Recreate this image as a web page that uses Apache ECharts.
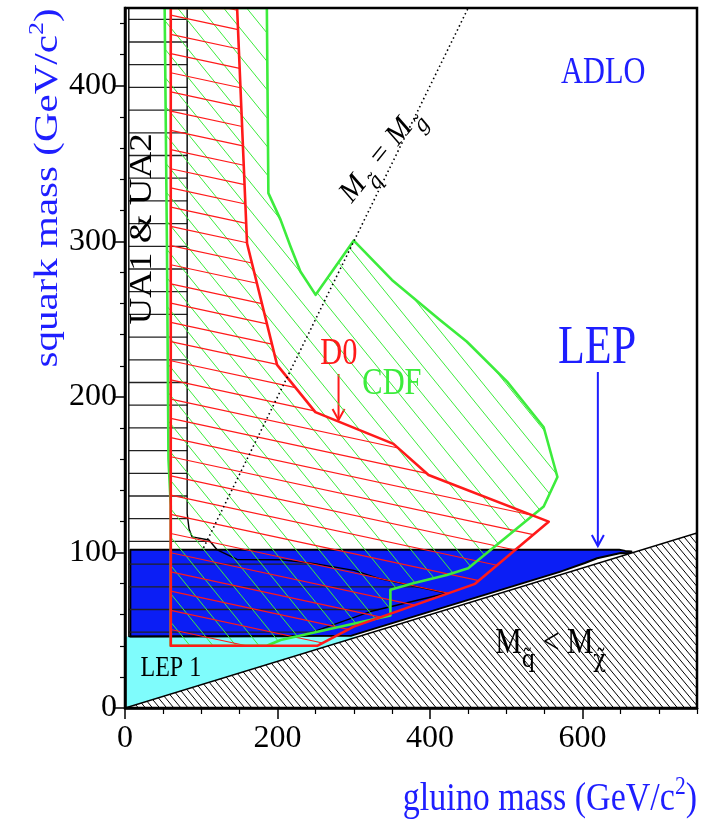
<!DOCTYPE html>
<html><head><meta charset="utf-8">
<script src="https://cdn.jsdelivr.net/npm/echarts@6/dist/echarts.min.js"></script>
<style>html,body{margin:0;padding:0;background:#fff}#c{width:704px;height:822px}</style>
</head><body><div id="c"></div><script>
// ---------- data (GeV/c^2) ----------
const xMajorTicks = [0, 200, 400, 600];
const xMinorTicks = [50, 100, 150, 250, 300, 350, 450, 500, 550, 650, 700, 750];
const yMajorTicks = [0, 100, 200, 300, 400];
const yMinorTicks = [20, 40, 60, 80, 120, 140, 160, 180, 220, 240, 260, 280, 320, 340, 360, 380, 420, 440];

const kinematicLimit = [[0, 0], [750, 112.5], [750, 0]];           // M_sq < M_chi
const lep1Region = [[0, 0], [0, 46], [306, 46]];
const lepRegion = [[7, 46], [7, 101.7], [648, 101.7], [656, 101], [664, 100.6], [664, 99.3],
  [650, 99.6], [619, 96.3], [603, 93.2], [570, 87.5], [297, 46.5]];
const ua12Region = [[5, 450], [81.5, 450], [81.5, 125], [84, 115], [88, 110], [110, 108], [121, 101.6],
  [147, 95.5], [204, 95.3], [247, 93], [300, 88.5], [335, 83], [422, 73.8], [321.6, 62], [230, 46], [5, 46]];
const cdfRegion = [[52, 450], [55, 297], [57, 160], [60, 130], [60, 40], [186, 40], [204, 43.7],
  [348, 59.5], [348, 76], [378, 80.2], [422, 85.5], [450, 89.8], [549, 129.5], [567, 148.5],
  [549, 180.5], [501, 209.8], [448, 235.6], [413, 249.5], [350, 275.2], [300, 300.5], [250, 265.6],
  [230, 280.6], [217, 296.7], [204, 313.8], [188, 331], [186, 450]];
const d0Region = [[60, 450], [60, 40], [252, 40], [300, 52.3], [459, 79.8], [555.5, 119.8],
  [398, 149.8], [352, 169.8], [249.6, 190.2], [199.4, 220.6], [160, 298.8], [147, 450]];
const equalMassLine = [[103, 103], [450, 450]];

// ---------- styles ----------
const SERIF = '"Liberation Serif","Times New Roman",serif';
const MARKS = '"DejaVu Serif",serif';
const BLUE_TXT = '#1e1eff', RED = '#ff1a1a', GREEN = '#3cec3c';

function hatch(pts, slope, perp, anchor) {
  const len = Math.hypot(1, slope), dx = 1 / len, dy = slope / len, nx = -dy, ny = dx;
  let cmin = Infinity, cmax = -Infinity;
  pts.forEach(p => { const c = nx * p[0] + ny * p[1]; cmin = Math.min(cmin, c); cmax = Math.max(cmax, c); });
  const c0 = nx * anchor[0] + ny * anchor[1];
  const segs = [];
  for (let k = Math.ceil((cmin - c0) / perp); c0 + k * perp <= cmax; k++) {
    const c = c0 + k * perp, ts = [];
    for (let i = 0; i < pts.length; i++) {
      const a = pts[i], b = pts[(i + 1) % pts.length];
      const sa = nx * a[0] + ny * a[1] - c, sb = nx * b[0] + ny * b[1] - c;
      if ((sa > 0) !== (sb > 0)) {
        const t = sa / (sa - sb);
        const px = a[0] + t * (b[0] - a[0]), py = a[1] + t * (b[1] - a[1]);
        ts.push(dx * px + dy * py);
      }
    }
    ts.sort((u, v) => u - v);
    for (let j = 0; j + 1 < ts.length; j += 2)
      segs.push([[c * nx + ts[j] * dx, c * ny + ts[j] * dy], [c * nx + ts[j + 1] * dx, c * ny + ts[j + 1] * dy]]);
  }
  return segs;
}

function regionSeries(name, poly, st) {
  return {
    type: 'custom', name, coordinateSystem: 'cartesian2d', data: poly, encode: { x: 0, y: 0 },
    clip: true, silent: true, z: st.z, animation: false,
    renderItem(params, api) {
      if (params.dataIndex !== 0) return null;
      const pts = poly.map(p => api.coord(p));
      const children = [];
      if (st.fill) children.push({ type: 'polygon', shape: { points: pts }, style: { fill: st.fill, stroke: null } });
      if (st.hatch) {
        const h = st.hatch;
        hatch(pts, h.slope, h.perp, h.anchor).forEach(s => children.push({
          type: 'line', shape: { x1: s[0][0], y1: s[0][1], x2: s[1][0], y2: s[1][1] },
          style: { stroke: h.color, lineWidth: h.width }
        }));
      }
      if (st.stroke) children.push({ type: 'polygon', shape: { points: pts },
        style: { fill: 'none', stroke: st.stroke, lineWidth: st.lineWidth, lineJoin: 'round' } });
      return { type: 'group', children };
    }
  };
}

const chart = echarts.init(document.getElementById('c'), null, { renderer: 'canvas' });
const axisCommon = { type: 'value', splitLine: { show: false }, z: 100 };
chart.setOption({
  animation: false,
  backgroundColor: '#fff',
  grid: { left: 125, right: 7, top: 8, bottom: 114, show: true, borderColor: '#000', borderWidth: 2.5, z: 100 },
  xAxis: [
    Object.assign({}, axisCommon, { min: 0, max: 750, position: 'bottom',
      axisLine: { show: true, lineStyle: { color: '#000', width: 2.5 } },
      axisTick: { show: true, customValues: xMajorTicks, length: 11, lineStyle: { color: '#000', width: 1.5 } },
      axisLabel: { show: true, customValues: xMajorTicks, margin: 15, color: '#000', fontFamily: SERIF, fontSize: 32 } }),
    Object.assign({}, axisCommon, { min: 0, max: 750, position: 'bottom',
      axisLine: { show: false },
      axisTick: { show: true, customValues: xMinorTicks, length: 6, lineStyle: { color: '#000', width: 1.2 } },
      axisLabel: { show: false } })
  ],
  yAxis: [
    Object.assign({}, axisCommon, { min: 0, max: 450, position: 'left',
      axisLine: { show: true, lineStyle: { color: '#000', width: 2.5 } },
      axisTick: { show: true, customValues: yMajorTicks, length: 10, lineStyle: { color: '#000', width: 1.5 } },
      axisLabel: { show: true, customValues: yMajorTicks, margin: 8, color: '#000', fontFamily: SERIF, fontSize: 32 } }),
    Object.assign({}, axisCommon, { min: 0, max: 450, position: 'left',
      axisLine: { show: false },
      axisTick: { show: true, customValues: yMinorTicks, length: 5, lineStyle: { color: '#000', width: 1.2 } },
      axisLabel: { show: false } })
  ],
  series: [
    regionSeries('LEP 1', lep1Region, { fill: '#7ffcfc', z: 2 }),
    regionSeries('LEP', lepRegion, { fill: '#0b1ef5', stroke: '#000', lineWidth: 2, z: 3 }),
    regionSeries('UA1 & UA2', ua12Region, { hatch: { slope: 0, perp: 22.7, anchor: [0, 19.3], color: '#222', width: 1.3 },
      stroke: '#000', lineWidth: 1.4, z: 4 }),
    regionSeries('CDF', cdfRegion, { hatch: { slope: 1.23, perp: 17.85, anchor: [300, 300], color: GREEN, width: 1 }, z: 5 }),
    regionSeries('D0', d0Region, { hatch: { slope: 0.215, perp: 18.77, anchor: [170, 15], color: RED, width: 1.2 }, z: 6 }),
    regionSeries('CDF outline', cdfRegion, { stroke: GREEN, lineWidth: 2.6, z: 7 }),
    regionSeries('D0 outline', d0Region, { stroke: RED, lineWidth: 2.6, z: 8 }),
    regionSeries('M_sq < M_chi', kinematicLimit, { fill: '#fff', hatch: { slope: 1.2, perp: 5.45, anchor: [600, 700], color: '#000', width: 1 },
      stroke: '#000', lineWidth: 1.6, z: 9 }),
    { type: 'line', name: 'M_sq = M_gl', data: equalMassLine, symbol: 'none', z: 10, silent: true,
      lineStyle: { color: '#000', width: 1.6, type: [1.5, 3] } }
  ]
});

// ---------- annotations (placed in data coordinates) ----------
function P(p) { return chart.convertToPixel({ gridIndex: 0 }, p); }
function txt(at, text, size, color, extra) {
  const p = P(at);
  return Object.assign({ type: 'text', x: p[0], y: p[1], z: 200, scaleX: 0.8,
    style: { text, fill: color, fontFamily: SERIF, fontSize: size, align: 'center', verticalAlign: 'middle' } }, extra || {});
}
function arrow(from, to, color) {
  const a = P(from), b = P(to);
  return { type: 'group', z: 200, children: [
    { type: 'line', shape: { x1: a[0], y1: a[1], x2: b[0], y2: b[1] }, style: { stroke: color, lineWidth: 2 } },
    { type: 'polyline', shape: { points: [[b[0] - 6, b[1] - 11], [b[0], b[1]], [b[0] + 6, b[1] - 11]] },
      style: { stroke: color, lineWidth: 2, fill: 'none' } }
  ] };
}
const g = [];
g.push(txt([627, 408.2], 'ADLO', 38, BLUE_TXT));
g.push(txt([619, 230.8], 'LEP', 55, BLUE_TXT));
g.push(arrow([620, 216], [620, 104.1], BLUE_TXT));
g.push(txt([280.4, 227.6], 'D0', 38, RED));
g.push(arrow([280, 214.7], [280, 185.2], RED));
g.push(txt([350, 208.3], 'CDF', 38, GREEN));
g.push(txt([60.1, 25.5], 'LEP 1', 30, '#000'));
(function () {
  const p = P([22.9, 308]);
  g.push({ type: 'text', x: p[0], y: p[1], rotation: Math.PI / 2, scaleY: 0.85, z: 200,
    style: { text: 'UA1 & UA2', fill: '#000', fontFamily: SERIF, fontSize: 37, align: 'center', verticalAlign: 'middle' } });
})();
(function () {
  const p = P([485.4, 42.6]);
  g.push({ type: 'text', x: p[0], y: p[1], scaleX: 0.85, z: 200,
    style: { text: '{m|M}{s|q\u0303}{m| < M}{s|\u03c7\u0303}', align: 'left', verticalAlign: 'middle',
      rich: { m: { fontFamily: SERIF, fontSize: 35, fill: '#000', lineHeight: 40, verticalAlign: 'bottom' },
              s: { fontFamily: MARKS, fontSize: 25, fill: '#000', lineHeight: 24, verticalAlign: 'bottom', padding: [0, 0, -11, 0] } } } });
})();
(function () {
  const p = P([333.4, 356.2]);
  g.push({ type: 'text', x: p[0], y: p[1], rotation: 51 * Math.PI / 180, z: 200,
    style: { text: '{m|M}{s|q\u0303}{m| = M}{s|g\u0303}', align: 'center', verticalAlign: 'middle',
      rich: { m: { fontFamily: SERIF, fontStyle: 'italic', fontSize: 30, fill: '#000', lineHeight: 34, verticalAlign: 'bottom' },
              s: { fontFamily: MARKS, fontStyle: 'italic', fontSize: 21, fill: '#000', lineHeight: 20, verticalAlign: 'bottom', padding: [0, 0, -9, 0] } } } });
})();
// axis titles
g.push({ type: 'text', x: 697, y: 797, scaleX: 0.83, z: 200,
  style: { text: '{n|gluino mass (GeV/c}{sup|2}{n|)}', align: 'right', verticalAlign: 'middle',
    rich: { n: { fontFamily: SERIF, fontSize: 41, fill: BLUE_TXT, lineHeight: 46, verticalAlign: 'bottom' },
            sup: { fontFamily: SERIF, fontSize: 26, fill: BLUE_TXT, lineHeight: 46, verticalAlign: 'top', padding: [0, 0, 18, 0] } } } });
g.push({ type: 'text', x: 46, y: 188, rotation: Math.PI / 2, scaleY: 0.8, z: 200,
  style: { text: '{n|squark mass (GeV/c}{sup|2}{n|)}', align: 'center', verticalAlign: 'middle',
    rich: { n: { fontFamily: SERIF, fontSize: 41, fill: BLUE_TXT, lineHeight: 46, verticalAlign: 'bottom' },
            sup: { fontFamily: SERIF, fontSize: 26, fill: BLUE_TXT, lineHeight: 46, verticalAlign: 'top', padding: [0, 0, 18, 0] } } } });
chart.setOption({ graphic: g });
</script></body></html>
